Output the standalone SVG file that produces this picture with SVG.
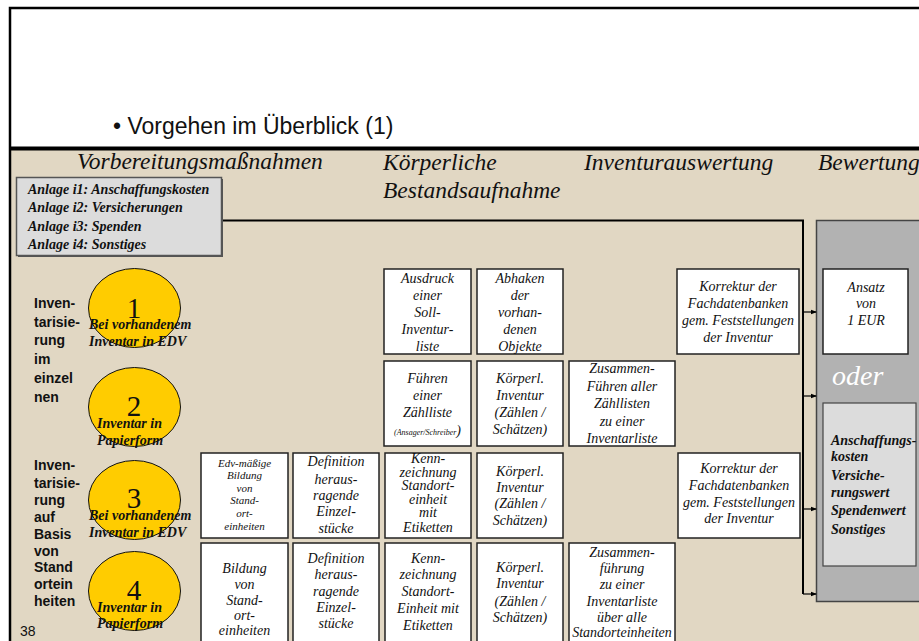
<svg xmlns="http://www.w3.org/2000/svg" width="919" height="641" viewBox="0 0 919 641">
<defs>
<style>
.hd{font-family:"Liberation Serif",serif;font-style:italic;font-size:23.5px;fill:#111}
.bi{font-family:"Liberation Serif",serif;font-style:italic;font-weight:bold;font-size:14px;fill:#111}
.it{font-family:"Liberation Serif",serif;font-style:italic;font-size:14px;fill:#111;text-anchor:middle}
.sm{font-family:"Liberation Serif",serif;font-style:italic;font-size:11px;fill:#111;text-anchor:middle}
.lb{font-family:"Liberation Sans",Arial,sans-serif;font-weight:bold;font-size:14px;fill:#111}
.num{font-family:"Liberation Serif",serif;font-size:29px;fill:#111;text-anchor:middle}
.box{fill:#fff;stroke:#222;stroke-width:1.5}
.circ{fill:#FFCC00;stroke:#111;stroke-width:1}
.con{stroke:#000;fill:none}
</style>
<marker id="ah" markerWidth="6" markerHeight="6" refX="5" refY="3" orient="auto" markerUnits="userSpaceOnUse">
<path d="M0,0.8 L6,3 L0,5.2 Z" fill="#000"/>
</marker>
</defs>
<rect x="0" y="0" width="919" height="641" fill="#fff"/>
<rect x="10" y="150" width="920" height="500" fill="#E1D7C3"/>
<path d="M10,650 V8 H930" fill="none" stroke="#000" stroke-width="2.5"/>
<rect x="10" y="146.5" width="920" height="4" fill="#000"/>
<text x="113" y="134" font-family="Liberation Sans,Arial,sans-serif" font-size="23" fill="#111">• Vorgehen im Überblick (1)</text>
<g id="headers">
<text class="hd" x="77" y="169">Vorbereitungsmaßnahmen</text>
<text class="hd" x="383" y="170">Körperliche</text>
<text class="hd" x="383" y="198">Bestandsaufnahme</text>
<text class="hd" x="584" y="170">Inventurauswertung</text>
<text class="hd" x="818" y="170">Bewertung</text>
</g>
<g id="legend">
<rect x="18" y="179" width="205" height="78" fill="#555"/>
<rect x="16.5" y="177.5" width="205" height="78" fill="#DCDCDC" stroke="#555" stroke-width="1.5"/>
<text class="bi" x="28" y="194">Anlage i1: Anschaffungskosten</text>
<text class="bi" x="28" y="212">Anlage i2: Versicherungen</text>
<text class="bi" x="28" y="231">Anlage i3: Spenden</text>
<text class="bi" x="28" y="249">Anlage i4: Sonstiges</text>
</g>
<g id="panel">
<rect x="816.5" y="220.5" width="120" height="381" fill="#B2B2B2" stroke="#444" stroke-width="1.5"/>
</g>
<g id="connectors">
<path class="con" stroke-width="2" d="M223,220.5 H803 V594"/>
<path class="con" stroke-width="1.2" marker-end="url(#ah)" d="M803,312 H816"/>
<path class="con" stroke-width="1.2" marker-end="url(#ah)" d="M803,396 H816"/>
<path class="con" stroke-width="1.2" marker-end="url(#ah)" d="M803,509 H816"/>
<path class="con" stroke-width="1.2" marker-end="url(#ah)" d="M803,594 H816"/>
</g>
<g id="label-einzeln">
<text class="lb" x="34" y="308">Inven-</text>
<text class="lb" x="34" y="327">tarisie-</text>
<text class="lb" x="34" y="345">rung</text>
<text class="lb" x="34" y="364">im</text>
<text class="lb" x="34" y="383">einzel</text>
<text class="lb" x="34" y="402">nen</text>
</g>
<g id="label-standort">
<text class="lb" x="34" y="470">Inven-</text>
<text class="lb" x="34" y="488">tarisie-</text>
<text class="lb" x="34" y="505">rung</text>
<text class="lb" x="34" y="522">auf</text>
<text class="lb" x="34" y="539">Basis</text>
<text class="lb" x="34" y="556">von</text>
<text class="lb" x="34" y="572">Stand</text>
<text class="lb" x="34" y="589">ortein</text>
<text class="lb" x="34" y="606">heiten</text>
</g>
<text x="20" y="636" font-family="Liberation Sans,Arial,sans-serif" font-size="14" fill="#111">38</text>
<g id="c1">
<ellipse class="circ" cx="134.5" cy="308" rx="46" ry="39.5"/>
<text class="num" x="134" y="318">1</text>
<text class="bi" x="89" y="329">Bei vorhandenem</text>
<text class="bi" x="89" y="346">Inventar in EDV</text>
</g>
<g id="c2">
<ellipse class="circ" cx="134.5" cy="407" rx="46" ry="39.5"/>
<text class="num" x="134" y="416">2</text>
<text class="bi" x="97" y="428">Inventar in</text>
<text class="bi" x="97" y="445">Papierform</text>
</g>
<g id="c3">
<ellipse class="circ" cx="134.5" cy="500" rx="46" ry="39.5"/>
<text class="num" x="134" y="508">3</text>
<text class="bi" x="89" y="520">Bei vorhandenem</text>
<text class="bi" x="89" y="537">Inventar in EDV</text>
</g>
<g id="c4">
<ellipse class="circ" cx="134.5" cy="591" rx="46" ry="39.5"/>
<text class="num" x="134" y="600">4</text>
<text class="bi" x="97" y="612">Inventar in</text>
<text class="bi" x="97" y="628">Papierform</text>
</g>
<g id="b-ausdruck">
<rect class="box" x="384" y="269" width="87" height="85"/>
<text class="it" x="427.5" y="283">Ausdruck</text>
<text class="it" x="427.5" y="300">einer</text>
<text class="it" x="427.5" y="317">Soll-</text>
<text class="it" x="427.5" y="334">Inventur-</text>
<text class="it" x="427.5" y="351">liste</text>
</g>
<g id="b-abhaken">
<rect class="box" x="477" y="269" width="86" height="85"/>
<text class="it" x="520" y="283">Abhaken</text>
<text class="it" x="520" y="300">der</text>
<text class="it" x="520" y="317">vorhan-</text>
<text class="it" x="520" y="334">denen</text>
<text class="it" x="520" y="351">Objekte</text>
</g>
<g id="b-korrektur1">
<rect class="box" x="677" y="269" width="122" height="85"/>
<text class="it" x="738" y="291">Korrektur der</text>
<text class="it" x="738" y="308">Fachdatenbanken</text>
<text class="it" x="738" y="325">gem. Feststellungen</text>
<text class="it" x="738" y="342">der Inventur</text>
</g>
<g id="b-ansatz">
<rect class="box" x="823" y="269" width="85" height="85"/>
<text class="it" x="866" y="292">Ansatz</text>
<text class="it" x="866" y="308">von</text>
<text class="it" x="866" y="325">1 EUR</text>
</g>
<text x="832" y="385" font-family="Liberation Serif,serif" font-style="italic" font-size="28" fill="#fff">oder</text>
<g id="b-fuehren">
<rect class="box" x="384" y="361" width="87" height="85"/>
<text class="it" x="427.5" y="383">Führen</text>
<text class="it" x="427.5" y="400">einer</text>
<text class="it" x="427.5" y="417">Zählliste</text>
<text class="it" x="427.5" y="435"><tspan font-size="8">(Ansager/Schreiber</tspan>)</text>
</g>
<g id="b-koerperl1">
<rect class="box" x="477" y="361" width="86" height="85"/>
<text class="it" x="520" y="383">Körperl.</text>
<text class="it" x="520" y="400">Inventur</text>
<text class="it" x="520" y="417">(Zählen /</text>
<text class="it" x="520" y="434">Schätzen)</text>
</g>
<g id="b-zusammen1">
<rect class="box" x="569" y="361" width="106" height="85"/>
<text class="it" x="622" y="373">Zusammen-</text>
<text class="it" x="622" y="391">Führen aller</text>
<text class="it" x="622" y="408">Zähllisten</text>
<text class="it" x="622" y="426">zu einer</text>
<text class="it" x="622" y="443">Inventarliste</text>
</g>
<g id="b-anschaffung">
<rect x="823" y="403" width="93" height="163" fill="#DCDCDC" stroke="#444" stroke-width="1.2"/>
<text class="bi" x="831" y="445">Anschaffungs-</text>
<text class="bi" x="831" y="461">kosten</text>
<text class="bi" x="831" y="480">Versiche-</text>
<text class="bi" x="831" y="497">rungswert</text>
<text class="bi" x="831" y="515">Spendenwert</text>
<text class="bi" x="831" y="534">Sonstiges</text>
</g>
<g id="b-edv">
<rect class="box" x="201" y="453" width="87" height="85"/>
<text class="sm" x="244.5" y="467">Edv-mäßige</text>
<text class="sm" x="244.5" y="479">Bildung</text>
<text class="sm" x="244.5" y="492">von</text>
<text class="sm" x="244.5" y="504">Stand-</text>
<text class="sm" x="244.5" y="517">ort-</text>
<text class="sm" x="244.5" y="530">einheiten</text>
</g>
<g id="b-definition1">
<rect class="box" x="293" y="453" width="86" height="85"/>
<text class="it" x="336" y="466">Definition</text>
<text class="it" x="336" y="484">heraus-</text>
<text class="it" x="336" y="500">ragende</text>
<text class="it" x="336" y="516">Einzel-</text>
<text class="it" x="336" y="533">stücke</text>
</g>
<g id="b-kenn1">
<rect class="box" x="385" y="453" width="86" height="85"/>
<text class="it" x="428" y="463">Kenn-</text>
<text class="it" x="428" y="477">zeichnung</text>
<text class="it" x="428" y="490">Standort-</text>
<text class="it" x="428" y="504">einheit</text>
<text class="it" x="428" y="517">mit</text>
<text class="it" x="428" y="532">Etiketten</text>
</g>
<g id="b-koerperl2">
<rect class="box" x="477" y="453" width="86" height="85"/>
<text class="it" x="520" y="476">Körperl.</text>
<text class="it" x="520" y="492">Inventur</text>
<text class="it" x="520" y="508">(Zählen /</text>
<text class="it" x="520" y="525">Schätzen)</text>
</g>
<g id="b-korrektur2">
<rect class="box" x="678" y="453" width="122" height="85"/>
<text class="it" x="739" y="473">Korrektur der</text>
<text class="it" x="739" y="490">Fachdatenbanken</text>
<text class="it" x="739" y="507">gem. Feststellungen</text>
<text class="it" x="739" y="523">der Inventur</text>
</g>
<g id="b-bildung">
<rect class="box" x="201" y="543" width="87" height="110"/>
<text class="it" x="244.5" y="573">Bildung</text>
<text class="it" x="244.5" y="589">von</text>
<text class="it" x="244.5" y="605">Stand-</text>
<text class="it" x="244.5" y="620">ort-</text>
<text class="it" x="244.5" y="635">einheiten</text>
</g>
<g id="b-definition2">
<rect class="box" x="293" y="543" width="86" height="110"/>
<text class="it" x="336" y="563">Definition</text>
<text class="it" x="336" y="579">heraus-</text>
<text class="it" x="336" y="596">ragende</text>
<text class="it" x="336" y="612">Einzel-</text>
<text class="it" x="336" y="628">stücke</text>
</g>
<g id="b-kenn2">
<rect class="box" x="385" y="543" width="86" height="110"/>
<text class="it" x="428" y="563">Kenn-</text>
<text class="it" x="428" y="579">zeichnung</text>
<text class="it" x="428" y="596">Standort-</text>
<text class="it" x="428" y="613">Einheit mit</text>
<text class="it" x="428" y="630">Etiketten</text>
</g>
<g id="b-koerperl3">
<rect class="box" x="477" y="543" width="86" height="110"/>
<text class="it" x="520" y="572">Körperl.</text>
<text class="it" x="520" y="588">Inventur</text>
<text class="it" x="520" y="606">(Zählen /</text>
<text class="it" x="520" y="622">Schätzen)</text>
</g>
<g id="b-zusammen2">
<rect class="box" x="569" y="543" width="106" height="110"/>
<text class="it" x="622" y="557">Zusammen-</text>
<text class="it" x="622" y="573">führung</text>
<text class="it" x="622" y="589">zu einer</text>
<text class="it" x="622" y="606">Inventarliste</text>
<text class="it" x="622" y="622">über alle</text>
<text class="it" x="622" y="637">Standorteinheiten</text>
</g>
</svg>
